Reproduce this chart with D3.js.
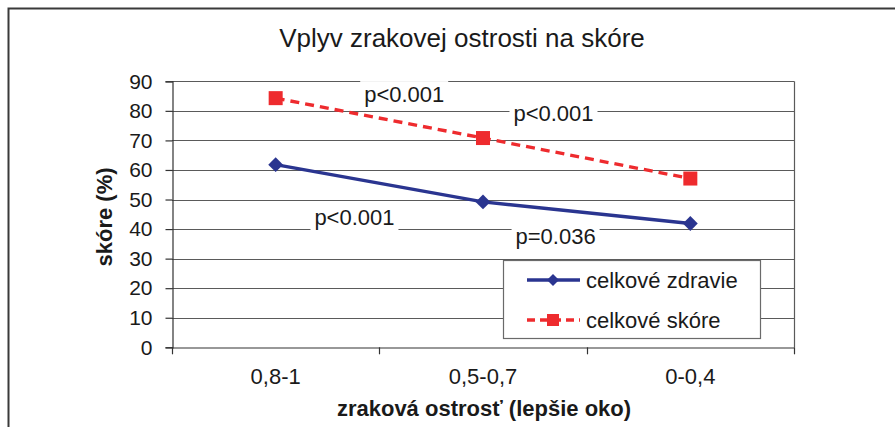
<!DOCTYPE html>
<html>
<head>
<meta charset="utf-8">
<script src="https://cdn.jsdelivr.net/npm/d3@7/dist/d3.min.js"></script>
<style>
  html, body { margin: 0; padding: 0; background: #fff; }
  svg { display: block; }
  text { font-family: "Liberation Sans", Arial, sans-serif; fill: #1a1a1a; }
</style>
</head>
<body>
<svg id="chart" width="895" height="427"></svg>
<script>
const title = "Vplyv zrakovej ostrosti na skóre";
const xTitle = "zraková ostrosť (lepšie oko)";
const yTitle = "skóre (%)";
const categories = ["0,8-1", "0,5-0,7", "0-0,4"];
const seriesNames = ["celkové zdravie", "celkové skóre"];
const zdravie = [61.8, 49.2, 41.9];
const skore = [84.3, 70.8, 57.1];
const yTicks = [0, 10, 20, 30, 40, 50, 60, 70, 80, 90];
// p-value annotations: label, position along category index, value
const annLabels = ["p<0.001", "p<0.001", "p<0.001", "p=0.036"];
const annPos = [0.62, 1.34, 0.38, 1.35];
const annValues = [85.0, 78.6, 43.4, 37.0];

const svg = d3.select("#chart");
const W = 895, H = 427;
const plot = { left: 172, right: 794, top: 81.3, bottom: 347.3 };
const FS = 22;

// outer frame
svg.append("rect")
  .attr("x", 8.5).attr("y", 8.5)
  .attr("width", W + 20).attr("height", H + 20)
  .attr("fill", "none").attr("stroke", "#3a3a3a").attr("stroke-width", 2);

const x = d3.scaleBand().domain(categories).range([plot.left, plot.right]).padding(0);
const xc = c => x(c) + x.bandwidth() / 2;
const xPos = p => plot.left + x.bandwidth() * (p + 0.5);
const y = d3.scaleLinear().domain([0, 90]).range([plot.bottom, plot.top]);

// gridlines
svg.append("g").selectAll("line").data(yTicks.filter(d => d > 0)).join("line")
  .attr("x1", plot.left).attr("x2", plot.right)
  .attr("y1", d => Math.round(y(d)) + 0.5).attr("y2", d => Math.round(y(d)) + 0.5)
  .attr("stroke", "#5a5a5a").attr("stroke-width", 1.2);

// right border of plot area
svg.append("line")
  .attr("x1", plot.right + 0.5).attr("x2", plot.right + 0.5)
  .attr("y1", y(90)).attr("y2", plot.bottom)
  .attr("stroke", "#5a5a5a").attr("stroke-width", 1.2);

// y axis
const yAxis = svg.append("g")
  .attr("transform", `translate(${plot.left + 0.5},0)`)
  .call(d3.axisLeft(y).tickValues(yTicks).tickSize(7).tickPadding(13).tickFormat(d3.format("d")));
yAxis.select(".domain").attr("stroke", "#333").attr("stroke-width", 1.2);
yAxis.selectAll(".tick line").attr("stroke", "#333").attr("stroke-width", 1.2);
yAxis.selectAll(".tick text").attr("font-size", 21).attr("fill", "#1a1a1a")
  .attr("font-family", "Liberation Sans, Arial, sans-serif");

// x axis
const xAxis = svg.append("g")
  .attr("transform", `translate(0,${Math.round(plot.bottom) + 0.5})`)
  .call(d3.axisBottom(x).tickSize(0).tickPadding(21));
xAxis.select(".domain").attr("stroke", "#333").attr("stroke-width", 1.2);
xAxis.selectAll(".tick text").attr("font-size", FS).attr("fill", "#1a1a1a")
  .attr("font-family", "Liberation Sans, Arial, sans-serif");
// x category boundary ticks
const bounds = d3.range(categories.length + 1).map(i => plot.left + i * x.bandwidth());
svg.append("g").selectAll("line").data(bounds).join("line")
  .attr("x1", d => Math.round(d) + 0.5).attr("x2", d => Math.round(d) + 0.5)
  .attr("y1", plot.bottom).attr("y2", plot.bottom + 7)
  .attr("stroke", "#333").attr("stroke-width", 1.2);

// annotation boxes (white background) and texts
const ann = svg.append("g");
annLabels.forEach((lab, i) => {
  const cx = xPos(annPos[i]), cy = y(annValues[i]);
  ann.append("rect")
    .attr("x", cx - 44).attr("y", cy - 15)
    .attr("width", 88).attr("height", 28)
    .attr("fill", "#fff");
  ann.append("text")
    .attr("x", cx).attr("y", cy + 6)
    .attr("text-anchor", "middle")
    .attr("font-size", FS)
    .text(lab);
});

// lines
const line = d3.line().x((d, i) => xc(categories[i])).y(d => y(d));
svg.append("path").datum(zdravie)
  .attr("d", line).attr("fill", "none")
  .attr("stroke", "#2a3590").attr("stroke-width", 3.4);
svg.append("path").datum(skore)
  .attr("d", line).attr("fill", "none")
  .attr("stroke", "#ee2b2e").attr("stroke-width", 3.4)
  .attr("stroke-dasharray", "9,6");

// markers
svg.append("g").selectAll("path").data(zdravie).join("path")
  .attr("transform", (d, i) => `translate(${xc(categories[i])},${y(d)}) rotate(45)`)
  .attr("d", d3.symbol().type(d3.symbolSquare).size(110))
  .attr("fill", "#2a3590");
svg.append("g").selectAll("rect").data(skore).join("rect")
  .attr("x", (d, i) => xc(categories[i]) - 7).attr("y", d => y(d) - 7)
  .attr("width", 14).attr("height", 14)
  .attr("fill", "#ee2b2e");

// legend
const lg = svg.append("g");
lg.append("rect").attr("x", 503.5).attr("y", 260.5).attr("width", 257).attr("height", 78)
  .attr("fill", "#fff").attr("stroke", "#6a6a6a").attr("stroke-width", 1.2);
const legendColors = ["#2a3590", "#ee2b2e"];
const legendDash = [null, "8,5"];
const legendY = [280, 320];
seriesNames.forEach((name, i) => {
  const yy = legendY[i];
  lg.append("line").attr("x1", 527).attr("x2", 580).attr("y1", yy).attr("y2", yy)
    .attr("stroke", legendColors[i]).attr("stroke-width", 3.4)
    .attr("stroke-dasharray", legendDash[i]);
  if (i === 0) {
    lg.append("path").attr("transform", `translate(553,${yy}) rotate(45)`)
      .attr("d", d3.symbol().type(d3.symbolSquare).size(72)).attr("fill", legendColors[i]);
  } else {
    lg.append("rect").attr("x", 547).attr("y", yy - 6).attr("width", 12).attr("height", 12)
      .attr("fill", legendColors[i]);
  }
  lg.append("text").attr("x", 586).attr("y", yy + 8).attr("font-size", FS).text(name);
});

// title
svg.append("text").attr("x", 462).attr("y", 47).attr("text-anchor", "middle")
  .attr("font-size", 26).text(title);

// axis titles
svg.append("text").attr("x", 484).attr("y", 416).attr("text-anchor", "middle")
  .attr("font-size", FS).attr("font-weight", "bold").text(xTitle);
svg.append("text").attr("transform", `translate(112,217) rotate(-90)`)
  .attr("text-anchor", "middle").attr("font-size", FS).attr("font-weight", "bold").text(yTitle);
</script>
</body>
</html>
